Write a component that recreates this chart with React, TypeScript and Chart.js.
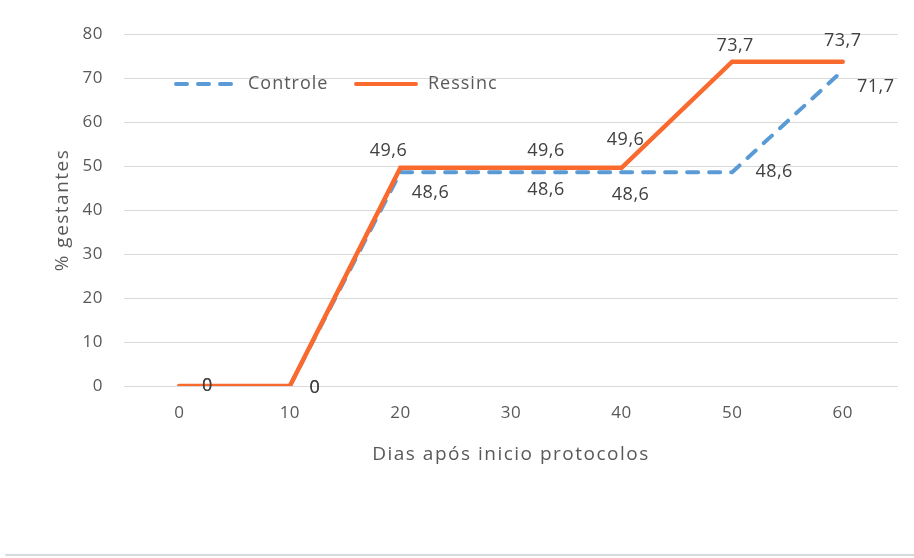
import { useEffect, useRef } from 'react';
import { Chart, registerables } from 'chart.js';

Chart.register(...registerables);

const days = ['0', '10', '20', '30', '40', '50', '60'];
const controle = [0, 0, 48.6, 48.6, 48.6, 48.6, 71.7];
const ressinc = [0, 0, 49.6, 49.6, 49.6, 73.7, 73.7];
const seriesNames = ['Controle', 'Ressinc'];
const xTitle = 'Dias após inicio protocolos';
const yTitle = '% gestantes';
const yMin = 0;
const yMax = 80;
const yStep = 10;

// label placement (style only): pixel offsets from each point
const controleLabelOffsets = [[28, 0], [25, 2], [30, 21], [35, 18], [9, 23], [42, 0], [33, 16]];
const ressincLabelOffsets = [[28, 0], [25, 2], [-12, -17], [35, -17], [4, -28], [3, -16], [0, -21]];

const FONT = '"Open Sans", "DejaVu Sans", sans-serif';
const BLUE = '#5B9BD5';
const ORANGE = '#FA6A2E';
const DASH = [11, 11];

const fmt = (v: number) => String(v).replace('.', ',');

const overlayPlugin = {
  id: 'overlay',
  afterLayout(chart: any) {
    ['x', 'y'].forEach((id) => {
      const s = chart.scales[id];
      if (s && !s.__patched) {
        const orig = s.drawTitle;
        s.drawTitle = function (...args: any[]) {
          this.ctx.save();
          this.ctx.letterSpacing = '1.5px';
          orig.apply(this, args);
          this.ctx.restore();
        };
        const origLabels = s.drawLabels;
        s.drawLabels = function (...args: any[]) {
          this.ctx.save();
          this.ctx.letterSpacing = '0.5px';
          origLabels.apply(this, args);
          this.ctx.restore();
        };
        s.__patched = true;
      }
    });
  },
  afterDatasetsDraw(chart: any) {
    const { ctx, chartArea } = chart;
    ctx.save();
    // data labels
    ctx.font = `18px ${FONT}`;
    ctx.letterSpacing = '0.5px';
    ctx.fillStyle = '#404040';
    ctx.textAlign = 'center';
    ctx.textBaseline = 'middle';
    chart.data.datasets.forEach((ds: any, di: number) => {
      const meta = chart.getDatasetMeta(di);
      meta.data.forEach((pt: any, i: number) => {
        const off = ds.labelOffsets[i];
        ctx.fillText(fmt(ds.data[i]), pt.x + off[0], pt.y + off[1]);
      });
    });
    // legend (inside plot area)
    ctx.letterSpacing = '1px';
    const ly = chartArea.top + 50;
    let lx = chartArea.left + 52;
    chart.data.datasets.forEach((ds: any) => {
      ctx.beginPath();
      ctx.lineWidth = 4;
      ctx.lineCap = 'round';
      ctx.strokeStyle = ds.borderColor;
      ctx.setLineDash(ds.borderDash || []);
      ctx.moveTo(lx, ly);
      ctx.lineTo(lx + 60, ly);
      ctx.stroke();
      ctx.setLineDash([]);
      ctx.fillStyle = '#595959';
      ctx.textAlign = 'left';
      ctx.fillText(ds.label, lx + 72, ly);
      lx += 180;
    });
    // bottom frame line
    ctx.beginPath();
    ctx.lineWidth = 2;
    ctx.strokeStyle = '#d9d9d9';
    ctx.moveTo(6, chart.height - 3);
    ctx.lineTo(chart.width, chart.height - 3);
    ctx.stroke();
    ctx.restore();
  },
};

export default function App() {
  const ref = useRef<HTMLCanvasElement>(null);
  useEffect(() => {
    document.body.style.margin = '0';
    const chart = new Chart(ref.current as HTMLCanvasElement, {
      type: 'line',
      data: {
        labels: days,
        datasets: [
          {
            label: seriesNames[0],
            data: controle,
            borderColor: BLUE,
            backgroundColor: BLUE,
            borderWidth: 4,
            borderDash: DASH,
            borderCapStyle: 'round',
            pointRadius: 0,
            tension: 0,
            order: 1,
            labelOffsets: controleLabelOffsets,
          } as any,
          {
            label: seriesNames[1],
            data: ressinc,
            borderColor: ORANGE,
            backgroundColor: ORANGE,
            borderWidth: 4.5,
            borderCapStyle: 'round',
            pointRadius: 0,
            tension: 0,
            order: 0,
            labelOffsets: ressincLabelOffsets,
          } as any,
        ],
      },
      options: {
        responsive: false,
        animation: false,
        layout: { padding: { top: 34, right: 16, bottom: 0, left: 0 } },
        plugins: {
          legend: { display: false },
          tooltip: { enabled: false },
        },
        scales: {
          x: {
            type: 'category',
            offset: true,
            grid: { display: false, drawTicks: false },
            border: { display: false },
            ticks: { color: '#595959', font: { family: FONT, size: 17 }, padding: 17 },
            title: {
              display: true,
              text: xTitle,
              color: '#595959',
              font: { family: FONT, size: 19 },
              padding: { top: 0, bottom: 92 },
            },
            afterFit: (s: any) => { s.height = 172; },
          },
          y: {
            min: yMin,
            max: yMax,
            ticks: { stepSize: yStep, color: '#595959', font: { family: FONT, size: 17 }, padding: 21 },
            grid: { color: '#d9d9d9', lineWidth: 1, drawTicks: false },
            border: { display: false },
            title: {
              display: true,
              text: yTitle,
              color: '#595959',
              font: { family: FONT, size: 19 },
              padding: { top: 51, bottom: 0 },
            },
            afterFit: (s: any) => { s.width = 124; },
          },
        },
      },
      plugins: [overlayPlugin],
    });
    return () => chart.destroy();
  }, []);
  return (
    <div style={{ width: 914, height: 558 }}>
      <canvas ref={ref} width={914} height={558} />
    </div>
  );
}
